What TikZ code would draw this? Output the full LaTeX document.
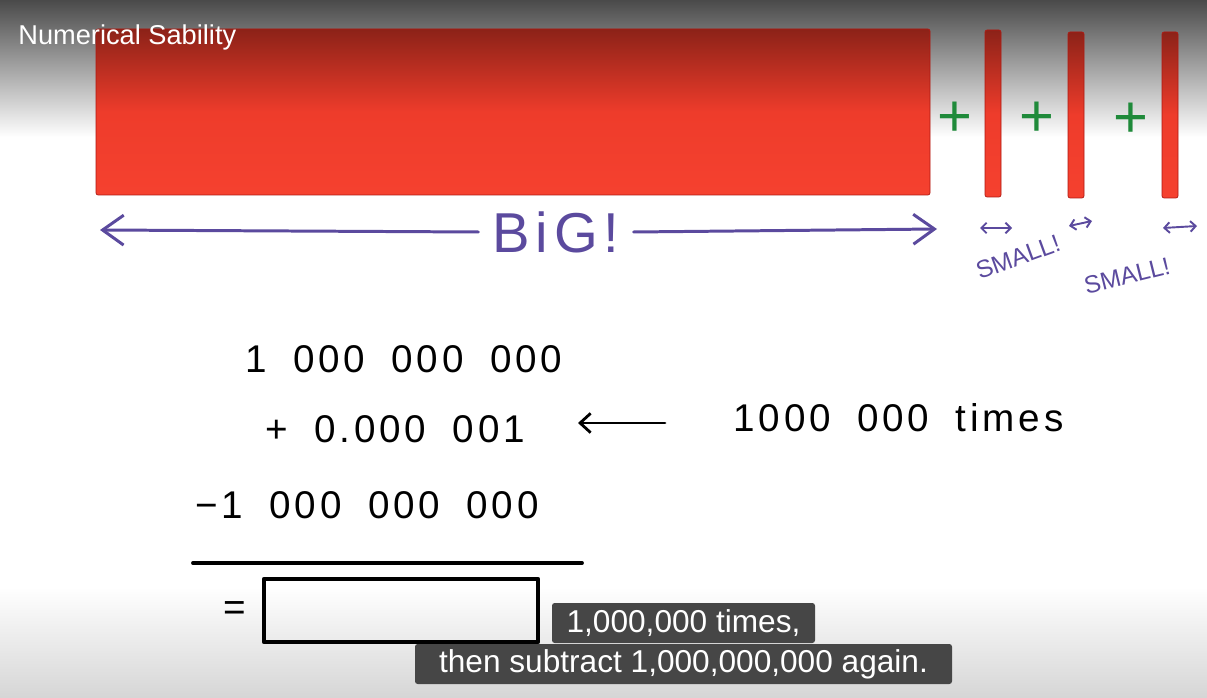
\documentclass[tikz,border=0pt]{standalone}
\usepackage{fontspec}
\usetikzlibrary{arrows.meta}
\setmainfont{Liberation Sans}
\newfontfamily\handfont[LetterSpace=10,WordSpace=1.8]{Liberation Sans}
\definecolor{bgtop}{HTML}{4A4A4A}
\definecolor{bgbot}{HTML}{D6D6D6}
\definecolor{redtop}{HTML}{8C2218}
\definecolor{redmid}{HTML}{EE3C2B}
\definecolor{redbot}{HTML}{F5412F}
\definecolor{penpurple}{HTML}{5B4A9E}
\definecolor{pengreen}{HTML}{1F8A3A}
\definecolor{capgray}{HTML}{464646}
\begin{document}
\begin{tikzpicture}[x=0.02cm, y=0.02cm, line cap=round, line join=round,
    redbar/.style={draw=redtop!70!red, line width=0.4pt, rounded corners=1.2pt,
      top color=redtop, bottom color=redbot, middle color=redmid},
    plussign/.style={text=pengreen, inner sep=0pt, font=\fontsize{34}{34}\selectfont},
    hand/.style={inner sep=0pt, font=\handfont\fontsize{22}{22}\selectfont},
    penline/.style={draw=penpurple, line width=1.7pt},
    smallarrow/.style={draw=penpurple, line width=1.1pt,
      {Straight Barb[length=3pt,width=6pt]}-{Straight Barb[length=3pt,width=6pt]}},
    smalltext/.style={text=penpurple, inner sep=0pt, font=\fontsize{14}{14}\selectfont},
    caption/.style={fill=capgray, rounded corners=1.5pt, text=white, inner sep=0pt,
      font=\fontsize{18}{18}\selectfont}]
  % background
  \useasboundingbox (0,0) rectangle (1207,697);
  \fill[white] (0,0) rectangle (1207,697);
  \shade[top color=bgtop, bottom color=white] (0,560) rectangle (1207,697);
  \shade[top color=white, bottom color=bgbot] (0,0) rectangle (1207,110);
  % the big number and the small ones
  \path[redbar] (96,502) rectangle (930,668);
  \path[redbar] (985,500) rectangle (1001,667);
  \path[redbar] (1068,499) rectangle (1084,665);
  \path[redbar] (1162,499) rectangle (1178,665);
  \node[text=white, inner sep=0pt, anchor=base west, font=\fontsize{15.5}{15.5}\selectfont]
    (title) at (18,652) {Numerical Sability};
  \node[plussign] (p1) at (955,578) {+};
  \node[plussign] (p2) at (1037,578) {+};
  \node[plussign] (p3) at (1131,577) {+};
  % BIG!
  \node[text=penpurple, inner xsep=8pt, inner ysep=0pt,
    font=\handfont\fontsize{32}{32}\selectfont] (big) at (556,465) {BiG!};
  \coordinate (bigL) at (100,467);
  \coordinate (bigR) at (937,468);
  \draw[penline, -{Straight Barb[length=12pt,width=17pt]}] (big.west) -- (bigL);
  \draw[penline, -{Straight Barb[length=12pt,width=17pt]}] (big.east) -- (bigR);
  % SMALL!
  \draw[smallarrow] (980,469) -- (1012,469);
  \draw[smallarrow] (1069,471) -- (1092,476);
  \draw[smallarrow] (1163,469) -- (1197,471);
  \node[smalltext, rotate=20] (sm1) at (1018,440) {SMALL!};
  \node[smalltext, rotate=14] (sm2) at (1127,421) {SMALL!};
  % the sum
  \node[hand, anchor=base west] (n1) at (245,324) {1 000 000 000};
  \node[hand, anchor=base west] (add) at (265,255) {+ 0.000 001};
  \node[hand, anchor=base west] (tms) at (733,265) {1000 000 times};
  \coordinate (arrR) at (665,274);
  \coordinate (arrL) at (578,274);
  \draw[draw=black, line width=1.6pt, -{Straight Barb[length=6pt,width=11pt]}] (arrR) -- (arrL);
  \node[hand, anchor=base west] (sub) at (195,179) {\textminus 1 000 000 000};
  \coordinate (ruleL) at (193,134);
  \coordinate (ruleR) at (582,134);
  \draw[line width=2.2pt] (ruleL) -- (ruleR);
  \node[hand] (eq) at (235,86) {=};
  \node[draw=black, line width=2.4pt, minimum width=274*0.02cm, minimum height=63*0.02cm,
    inner sep=0pt] (res) at (401,86.5) {};
  % captions
  \node[caption, minimum width=263*0.02cm, minimum height=40*0.02cm] (cap1)
    at (683.5,74) {1,000,000 times,};
  \node[caption, minimum width=537*0.02cm, minimum height=40*0.02cm] (cap2)
    at (683.5,33) {then subtract 1,000,000,000 again.};
\end{tikzpicture}
\end{document}
